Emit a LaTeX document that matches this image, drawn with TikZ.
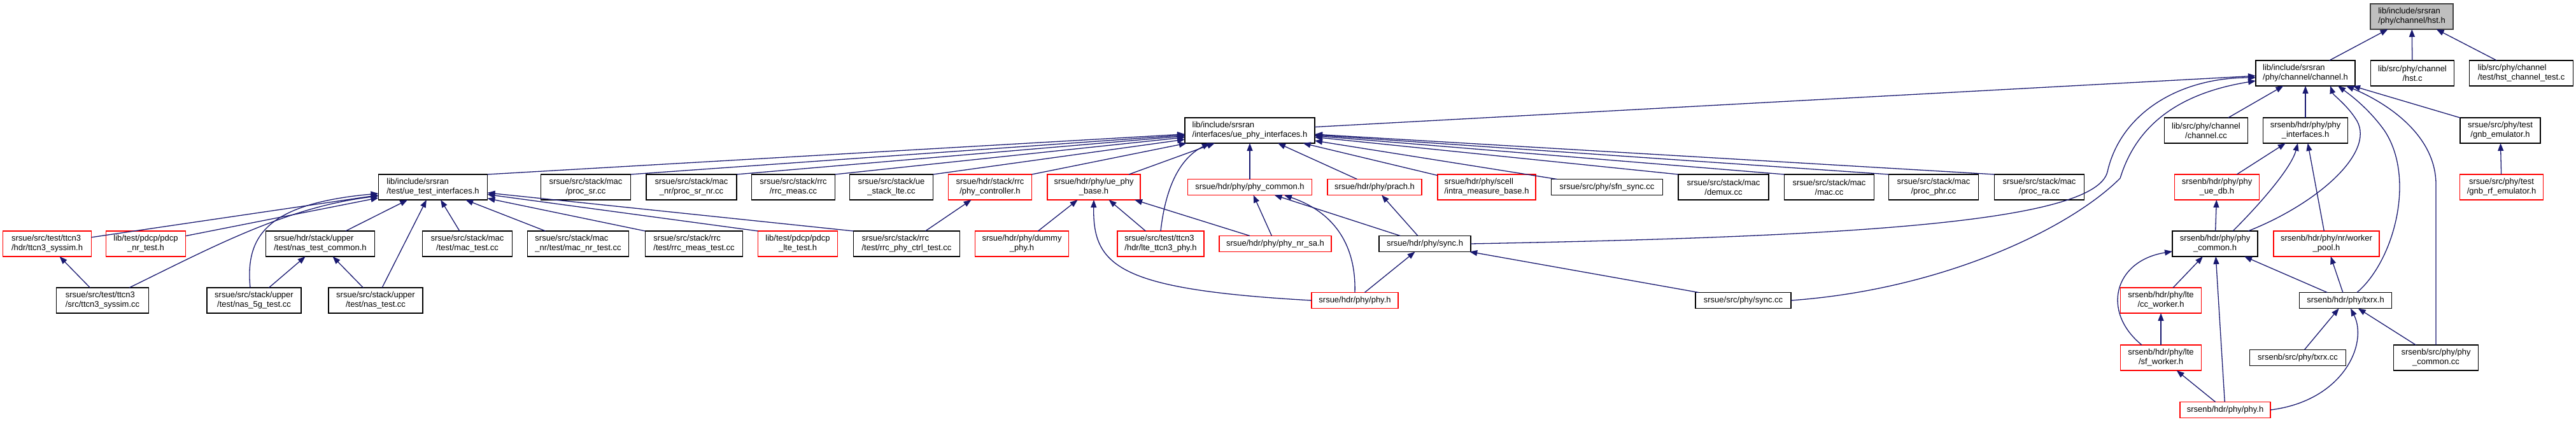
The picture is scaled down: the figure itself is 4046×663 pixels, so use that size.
\documentclass[tikz,border=0pt]{standalone}
\usepackage{fontspec}
\setmainfont{Liberation Sans}
\usepackage{tikz}
\usetikzlibrary{arrows.meta}
\definecolor{depblue}{HTML}{191970}
\definecolor{truncred}{HTML}{FF0000}
\definecolor{rootgray}{HTML}{BFBFBF}
\definecolor{rootline}{HTML}{404040}

\begin{document}
\begin{tikzpicture}[
        x=1pt, y=-1pt,
        every node/.style={outer sep=0pt},
        file/.style={rectangle, draw=black, line width=1.5pt, fill=white,
                     minimum height=40pt, inner xsep=8pt, inner ysep=1pt,
                     font=\fontsize{13}{15}\selectfont, align=center},
        fileL/.style={file, align=left},
        file1/.style={file, minimum height=25pt},
        trunc/.style={draw=truncred},
        root/.style={fill=rootgray, draw=rootline},
        dep/.style={draw=depblue, line width=1.3pt,
                    -{Triangle[length=12pt, width=9pt]}}
    ]
        \useasboundingbox (0,0) rectangle (4046,663);

        % --- Rango 0-2: hst.h y channel.h ---
        \node[fileL, root, minimum width=130pt] (hst) at (3788,26)
            {lib/include/srsran\\/phy/channel/hst.h};
        \node[fileL, minimum width=156pt] (chan) at (3621,115)
            {lib/include/srsran\\/phy/channel/channel.h};
        \node[file, minimum width=131pt] (hstc) at (3789,115)
            {lib/src/phy/channel\\/hst.c};
        \node[fileL, minimum width=163pt] (hsttest) at (3960,115)
            {lib/src/phy/channel\\/test/hst\_channel\_test.c};
        \node[file, minimum width=131pt] (chancc) at (3465,205)
            {lib/src/phy/channel\\/channel.cc};
        \node[file, minimum width=133pt] (enbifs) at (3621,205)
            {srsenb/hdr/phy/phy\\\_interfaces.h};
        \node[file, minimum width=126pt] (gnbemu) at (3927,205)
            {srsue/src/phy/test\\/gnb\_emulator.h};
        \node[fileL, minimum width=204pt] (uephyifs) at (1963,205)
            {lib/include/srsran\\/interfaces/ue\_phy\_interfaces.h};

        % --- srsenb ---
        \node[file, trunc, minimum width=133pt] (uedb) at (3482,294)
            {srsenb/hdr/phy/phy\\\_ue\_db.h};
        \node[file, trunc, minimum width=131pt] (gnbrf) at (3929,294)
            {srsue/src/phy/test\\/gnb\_rf\_emulator.h};
        \node[file, minimum width=134pt] (enbcommon) at (3479,383)
            {srsenb/hdr/phy/phy\\\_common.h};
        \node[file, trunc, minimum width=166pt] (workerpool) at (3654,383)
            {srsenb/hdr/phy/nr/worker\\\_pool.h};
        \node[file, trunc, minimum width=127pt] (ccworker) at (3394,472)
            {srsenb/hdr/phy/lte\\/cc\_worker.h};
        \node[file1, minimum width=145pt] (txrxh) at (3684,472)
            {srsenb/hdr/phy/txrx.h};
        \node[file, trunc, minimum width=127pt] (sfworker) at (3394,562)
            {srsenb/hdr/phy/lte\\/sf\_worker.h};
        \node[file1, minimum width=151pt] (txrxcc) at (3609,562)
            {srsenb/src/phy/txrx.cc};
        \node[file, minimum width=133pt] (enbcommoncc) at (3826,562)
            {srsenb/src/phy/phy\\\_common.cc};
        \node[file1, trunc, minimum width=142pt] (enbphy) at (3495,644)
            {srsenb/hdr/phy/phy.h};

        % --- srsue, rango 3 ---
        \node[fileL, minimum width=171pt] (uetest) at (680,294)
            {lib/include/srsran\\/test/ue\_test\_interfaces.h};
        \node[file, minimum width=141pt] (procsr) at (920,294)
            {srsue/src/stack/mac\\/proc\_sr.cc};
        \node[file, minimum width=142pt] (procsrnr) at (1086,294)
            {srsue/src/stack/mac\\\_nr/proc\_sr\_nr.cc};
        \node[file, minimum width=131pt] (rrcmeas) at (1246,294)
            {srsue/src/stack/rrc\\/rrc\_meas.cc};
        \node[file, minimum width=131pt] (uestack) at (1400,294)
            {srsue/src/stack/ue\\\_stack\_lte.cc};
        \node[file, trunc, minimum width=131pt] (phyctrl) at (1555,294)
            {srsue/hdr/stack/rrc\\/phy\_controller.h};
        \node[file, trunc, minimum width=146pt] (uephybase) at (1718,294)
            {srsue/hdr/phy/ue\_phy\\\_base.h};
        \node[file1, trunc, minimum width=195pt] (uecommon) at (1963,294)
            {srsue/hdr/phy/phy\_common.h};
        \node[file1, trunc, minimum width=148pt] (prach) at (2159,294)
            {srsue/hdr/phy/prach.h};
        \node[fileL, trunc, minimum width=154pt] (intrameas) at (2335,294)
            {srsue/hdr/phy/scell\\/intra\_measure\_base.h};
        \node[file1, minimum width=175pt] (sfnsync) at (2524,294)
            {srsue/src/phy/sfn\_sync.cc};
        \node[file, minimum width=142pt] (demux) at (2707,294)
            {srsue/src/stack/mac\\/demux.cc};
        \node[file, minimum width=141pt] (maccc) at (2873,294)
            {srsue/src/stack/mac\\/mac.cc};
        \node[file, minimum width=141pt] (procphr) at (3037,294)
            {srsue/src/stack/mac\\/proc\_phr.cc};
        \node[file, minimum width=141pt] (procra) at (3203,294)
            {srsue/src/stack/mac\\/proc\_ra.cc};

        % --- srsue, rango 4 ---
        \node[fileL, trunc, minimum width=139pt] (syssimh) at (74,383)
            {srsue/src/test/ttcn3\\/hdr/ttcn3\_syssim.h};
        \node[file, trunc, minimum width=125pt] (pdcpnr) at (229,383)
            {lib/test/pdcp/pdcp\\\_nr\_test.h};
        \node[fileL, minimum width=171pt] (nascommon) at (503,383)
            {srsue/hdr/stack/upper\\/test/nas\_test\_common.h};
        \node[file, minimum width=141pt] (mactest) at (734,383)
            {srsue/src/stack/mac\\/test/mac\_test.cc};
        \node[fileL, minimum width=159pt] (macnrtest) at (908,383)
            {srsue/src/stack/mac\\\_nr/test/mac\_nr\_test.cc};
        \node[fileL, minimum width=153pt] (rrcmeastest) at (1090,383)
            {srsue/src/stack/rrc\\/test/rrc\_meas\_test.cc};
        \node[file, trunc, minimum width=125pt] (pdcplte) at (1253,383)
            {lib/test/pdcp/pdcp\\\_lte\_test.h};
        \node[fileL, minimum width=167pt] (phyctrltest) at (1424,383)
            {srsue/src/stack/rrc\\/test/rrc\_phy\_ctrl\_test.cc};
        \node[file, trunc, minimum width=147pt] (dummyphy) at (1605,383)
            {srsue/hdr/phy/dummy\\\_phy.h};
        \node[fileL, trunc, minimum width=136pt] (ttcn3phy) at (1823,383)
            {srsue/src/test/ttcn3\\/hdr/lte\_ttcn3\_phy.h};
        \node[file1, trunc, minimum width=176pt] (phynrsa) at (2003,383)
            {srsue/hdr/phy/phy\_nr\_sa.h};
        \node[file1, minimum width=144pt] (synch) at (2238,383)
            {srsue/hdr/phy/sync.h};

        % --- srsue, rango 5 ---
        \node[fileL, minimum width=145pt] (syssimcc) at (161,472)
            {srsue/src/test/ttcn3\\/src/ttcn3\_syssim.cc};
        \node[file, minimum width=148pt] (nas5g) at (399,472)
            {srsue/src/stack/upper\\/test/nas\_5g\_test.cc};
        \node[file, minimum width=148pt] (nastest) at (590,472)
            {srsue/src/stack/upper\\/test/nas\_test.cc};
        \node[file1, trunc, minimum width=136pt] (uephy) at (2128,472)
            {srsue/hdr/phy/phy.h};
        \node[file1, minimum width=150pt] (synccc) at (2738,472)
            {srsue/src/phy/sync.cc};

        % --- dependencias: hst.h y channel.h ---
        \draw[dep] (chan) -- (hst);
        \draw[dep] (hstc) -- (hst);
        \draw[dep] (hsttest) -- (hst);
        \draw[dep] (uephyifs) -- (chan);
        \draw[dep] (synch.east) .. controls (2900,372) and (3290,350) .. (3310,270)
            .. controls (3330,180) and (3420,122) .. ([yshift=-7pt]chan.west);
        \draw[dep] (synccc.east) .. controls (3050,455) and (3250,360) .. (3330,280)
            .. controls (3350,215) and (3400,150) .. ([yshift=-12pt]chan.west);
        \draw[dep] (chancc) -- (chan);
        \draw[dep] (enbifs) -- (chan);
        \draw[dep] ([xshift=-15pt]enbcommon.north east) .. controls (3640,320) and (3730,240) .. (3702,190)
            .. controls (3687,165) and (3665,150) .. ([xshift=39pt]chan.south);
        \draw[dep] ([xshift=18pt]txrxh.north) .. controls (3760,410) and (3795,280) .. (3745,205)
            .. controls (3720,170) and (3690,148) .. ([xshift=51pt]chan.south);
        \draw[dep] (enbcommoncc.north) -- (3826,290)
            .. controls (3826,210) and (3745,160) .. ([xshift=64pt]chan.south);
        \draw[dep] (gnbemu.north west) -- ([xshift=-4pt]chan.south east);
        \draw[dep] (gnbrf) -- (gnbemu);

        % --- dependencias: srsenb ---
        \draw[dep] (uedb) -- (enbifs);
        \draw[dep] ([xshift=28pt]enbcommon.north) .. controls (3560,310) and (3600,260) .. ([xshift=-12pt]enbifs.south);
        \draw[dep] (workerpool) -- (enbifs);
        \draw[dep] (enbcommon) -- (uedb);
        \draw[dep] (ccworker) -- (enbcommon);
        \draw[dep] ([xshift=-30pt]sfworker.north) .. controls (3300,490) and (3320,410) .. ([yshift=-12pt]enbcommon.west);
        \draw[dep] (enbphy) -- (enbcommon);
        \draw[dep] (txrxh) -- (enbcommon);
        \draw[dep] (txrxh) -- (workerpool);
        \draw[dep] (sfworker) -- (ccworker);
        \draw[dep] (enbphy) -- (sfworker);
        \draw[dep] (txrxcc) -- (txrxh);
        \draw[dep] (enbphy.east) .. controls (3680,630) and (3720,540) .. ([xshift=8pt]txrxh.south);
        \draw[dep] (enbcommoncc) -- (txrxh);

        % --- dependencias: ue_phy_interfaces.h ---
        \draw[dep] (uetest.north east) -- (uephyifs);
        \draw[dep] (procsr.north east) -- (uephyifs);
        \draw[dep] (procsrnr.north east) -- (uephyifs);
        \draw[dep] (rrcmeas.north east) -- (uephyifs);
        \draw[dep] (uestack.north east) -- (uephyifs);
        \draw[dep] (phyctrl.north east) -- (uephyifs);
        \draw[dep] (uephybase) -- (uephyifs);
        \draw[dep] (ttcn3phy.north) .. controls (1830,300) and (1850,250) .. ([xshift=-63pt]uephyifs.south);
        \draw[dep] (uecommon) -- (uephyifs);
        \draw[dep] (prach) -- (uephyifs);
        \draw[dep] (intrameas) -- (uephyifs);
        \draw[dep] (sfnsync) -- (uephyifs);
        \draw[dep] (demux.north west) -- (uephyifs);
        \draw[dep] (maccc.north west) -- (uephyifs);
        \draw[dep] (procphr.north west) -- (uephyifs);
        \draw[dep] (procra.north west) -- (uephyifs);

        % --- dependencias: ue_test_interfaces.h ---
        \draw[dep] (syssimh) -- (uetest);
        \draw[dep] (pdcpnr) -- (uetest);
        \draw[dep] ([xshift=42pt]syssimcc.north) .. controls (330,390) and (450,325) .. ([yshift=-14pt]uetest.west);
        \draw[dep] ([xshift=-6pt]nas5g.north) .. controls (385,370) and (420,320) .. ([yshift=-10pt]uetest.west);
        \draw[dep] (nascommon) -- (uetest);
        \draw[dep] (nastest) -- (uetest);
        \draw[dep] (mactest) -- (uetest);
        \draw[dep] (macnrtest) -- (uetest);
        \draw[dep] (rrcmeastest.north west) -- (uetest);
        \draw[dep] (pdcplte.north west) -- (uetest);
        \draw[dep] (phyctrltest.north west) -- (uetest);

        % --- dependencias: resto de srsue ---
        \draw[dep] (syssimcc) -- (syssimh);
        \draw[dep] (nas5g) -- (nascommon);
        \draw[dep] (nastest) -- (nascommon);
        \draw[dep] (phyctrltest) -- (phyctrl);
        \draw[dep] (dummyphy) -- (uephybase);
        \draw[dep] (ttcn3phy) -- (uephybase);
        \draw[dep] (phynrsa) -- (uephybase);
        \draw[dep] (uephy.west) .. controls (1760,455) and (1716,420) .. (uephybase.south);
        \draw[dep] (phynrsa) -- (uecommon);
        \draw[dep] (synch) -- (uecommon);
        \draw[dep] (uephy.north) .. controls (2130,390) and (2100,335) .. ([xshift=54pt]uecommon.south);
        \draw[dep] (synch) -- (prach);
        \draw[dep] (uephy) -- (synch);
        \draw[dep] (synccc) -- (synch);
    \end{tikzpicture}
\end{document}
